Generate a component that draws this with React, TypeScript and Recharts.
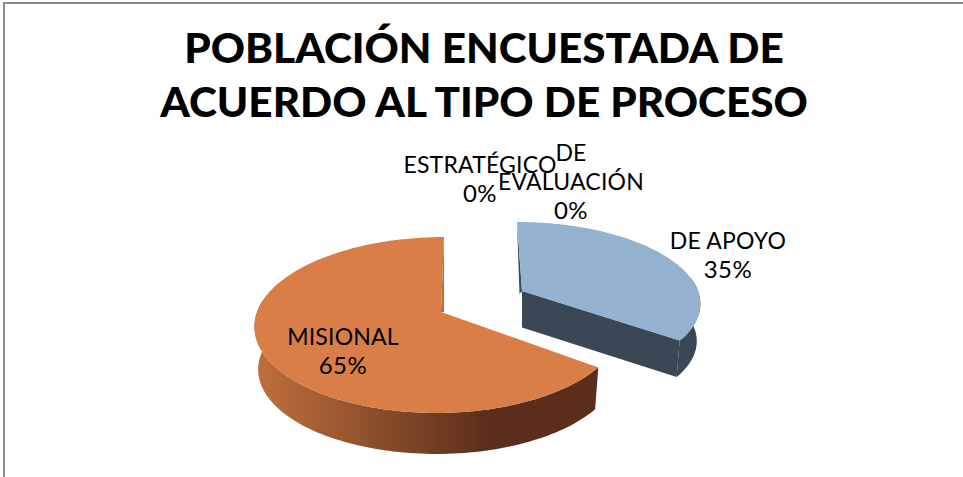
import React from 'react';
import { PieChart, Pie } from 'recharts';

const categories = ['DE APOYO', 'MISIONAL', 'ESTRATÉGICO', 'DE EVALUACIÓN'];
const values = [35, 65, 0, 0];
const titleLines = ['POBLACIÓN ENCUESTADA DE', 'ACUERDO AL TIPO DE PROCESO'];

const data = categories.map((name, i) => ({ name, value: values[i] }));

const FONT = 'Lato, sans-serif';

// fake 3D: each slice is a circle pushed through a small perspective projection
interface SliceLook {
  x: number;
  y: number;
  a: number;
  bl: number;
  br: number;
  k: number;
  shear: number;
  depth: number;
  top: string;
  wall: string;
  cut: string;
  sliver: string;
  sliverDx: number;
}

const looks: Record<string, SliceLook> = {
  'DE APOYO': {
    x: 522, y: 291, a: 78, bl: 176, br: 176, k: 0.13, shear: 0.072, depth: 37.5,
    top: '#92b2d0', wall: '#3a4856', cut: '#3a4856', sliver: '#3a4856', sliverDx: -2.5,
  },
  MISIONAL: {
    x: 441, y: 312, a: 86, bl: 184, br: 180, k: 0.1478, shear: -0.04, depth: 43,
    top: '#d97e46', wall: 'url(#orangeWall)', cut: '#d97e46', sliver: '#b96d3c', sliverDx: 3,
  },
};

const labelSpots: Record<string, { x: number; y: number[]; lines: string[] }> = {
  'DE APOYO': { x: 728, y: [249, 278], lines: ['DE APOYO'] },
  MISIONAL: { x: 343, y: [345, 374], lines: ['MISIONAL'] },
  ESTRATÉGICO: { x: 480, y: [173, 202], lines: ['ESTRATÉGICO'] },
  'DE EVALUACIÓN': { x: 571, y: [161, 190, 219], lines: ['DE', 'EVALUACIÓN'] },
};

const BOTTOM_RING = 0.98;

const project = (g: SliceLook, deg: number, ring = 1): [number, number] => {
  const t = (deg * Math.PI) / 180;
  const u = Math.sin(t);
  const v = -Math.cos(t);
  const w = 1 - g.k * v;
  const py = ((g.a * v) / w) * ring;
  const px = (((u < 0 ? g.bl : g.br) * u) / w) * ring + g.shear * py;
  return [g.x + px, g.y + py + (ring < 1 ? g.depth : 0)];
};

const toPath = (pts: [number, number][]) =>
  'M' + pts.map((p) => `${p[0].toFixed(1)},${p[1].toFixed(1)}`).join('L') + 'Z';

const sweep = (from: number, to: number) => {
  const out: number[] = [];
  for (let d = from; d < to; d += 1.5) out.push(d);
  out.push(to);
  return out;
};

const Slice3D = (props: any) => {
  const g = looks[props.name];
  if (!g || props.startAngle === props.endAngle) return <g />;
  // recharts angles run counter-clockwise from 3 o'clock
  const from = 90 - props.startAngle;
  const to = 90 - props.endAngle;
  const apex: [number, number] = [g.x, g.y];
  const apexLow: [number, number] = [g.x, g.y + g.depth - 1];
  const arc = sweep(from, to);
  const wallArc = sweep(Math.max(from, 80), Math.min(to, 282));
  const wall = [
    ...wallArc.map((d) => project(g, d)),
    ...[...wallArc].reverse().map((d) => project(g, d, BOTTOM_RING)),
  ];
  const first = project(g, from);
  const last = project(g, to);
  return (
    <g>
      <path d={toPath(wall)} fill={g.wall} />
      {from < 1 ? (
        <path d={toPath([apex, project(g, to), project(g, to, BOTTOM_RING), apexLow])} fill={g.cut} />
      ) : null}
      <path
        d={toPath(
          from < 1
            ? [first, apex, [g.x + g.sliverDx, g.y + 3]]
            : [last, apex, [g.x + g.sliverDx, g.y]],
        )}
        fill={g.sliver}
      />
      <path d={toPath([apex, ...arc.map((d) => project(g, d))])} fill={g.top} />
    </g>
  );
};

const SliceLabel = (props: any) => {
  const spot = labelSpots[props.name];
  if (!spot) return null;
  const rows = [...spot.lines, `${Math.round((props.percent || 0) * 100)}%`];
  return (
    <g>
      {rows.map((row, i) => (
        <text
          key={row}
          x={spot.x}
          y={spot.y[i]}
          textAnchor="middle"
          fontFamily={FONT}
          fontSize={row.includes('%') ? 24 : 23}
          letterSpacing={row.includes('%') ? 0.5 : 0.2}
          fill="#000000"
        >
          {row}
        </text>
      ))}
    </g>
  );
};

export default function App() {
  return (
    <div style={{ position: 'absolute', left: 0, top: 0, width: 963, height: 477, background: '#fff', overflow: 'hidden' }}>
      <div style={{ position: 'absolute', left: 3, top: 2, width: 970, height: 490, border: '2px solid #8c8c8c' }} />
      <PieChart width={963} height={477} margin={{ top: 0, right: 0, bottom: 0, left: 0 }} style={{ position: 'absolute', left: 0, top: 0 }}>
        <defs>
          <linearGradient id="orangeWall" gradientUnits="userSpaceOnUse" x1="255" y1="0" x2="600" y2="0">
            <stop offset="0" stopColor="#c0703c" />
            <stop offset="0.68" stopColor="#5a2e1a" />
            <stop offset="1" stopColor="#5a2e1a" />
          </linearGradient>
        </defs>
        <text textAnchor="middle" fontFamily={FONT} fontWeight={900} fontSize={42.3} fill="#000000">
          <tspan x={484} y={63}>{titleLines[0]}</tspan>
          <tspan x={484} y={117}>{titleLines[1]}</tspan>
        </text>
        <Pie
          data={data}
          dataKey="value"
          nameKey="name"
          cx={480}
          cy={320}
          outerRadius={180}
          startAngle={90}
          endAngle={-270}
          stroke="none"
          shape={Slice3D}
          label={SliceLabel}
          labelLine={false}
          isAnimationActive={false}
        />
      </PieChart>
    </div>
  );
}
